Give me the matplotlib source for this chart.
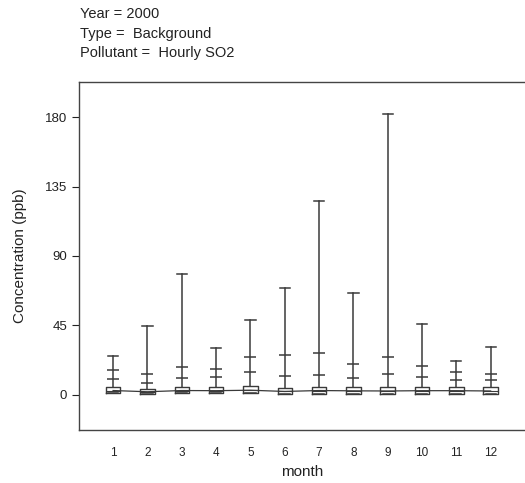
import matplotlib

matplotlib.use("Agg")

import matplotlib.pyplot as plt

# Hourly SO2 at background sites, year 2000, by month
months = [1, 2, 3, 4, 5, 6, 7, 8, 9, 10, 11, 12]
q1 = [1.0, 0.5, 1.0, 1.0, 1.2, 0.6, 0.5, 0.8, 0.7, 0.8, 0.8, 0.7]
medians = [2.8, 2.0, 2.8, 2.7, 3.0, 2.2, 2.8, 2.6, 2.5, 2.7, 2.7, 2.5]
q3 = [5.4, 4.0, 5.4, 5.2, 5.7, 4.7, 5.2, 5.0, 4.8, 5.1, 5.1, 4.8]
p95 = [10.4, 8.0, 11.2, 11.7, 14.9, 12.3, 13.1, 11.2, 13.8, 11.7, 9.9, 9.3]
p99 = [16.2, 13.4, 17.9, 17.0, 24.4, 25.7, 26.8, 20.3, 24.8, 19.0, 14.7, 13.4]
maxima = [25.3, 44.7, 78.3, 30.4, 48.6, 69.3, 125.6, 66.0, 182.0, 46.0, 22.2, 31.3]

ink = "#3a3a3a"
plt.rcParams["font.family"] = ["Liberation Sans", "DejaVu Sans"]

fig = plt.figure(figsize=(5.25, 4.83), dpi=100)
ax = fig.add_axes([0.150, 0.110, 0.850, 0.720])

stats = []
for m, a, med, b, top in zip(months, q1, medians, q3, maxima):
    stats.append({"label": str(m), "q1": a, "med": med, "q3": b,
                  "whislo": a, "whishi": top, "fliers": []})

ax.bxp(stats, positions=months, widths=0.42, showfliers=False,
       boxprops=dict(color=ink, linewidth=1.0),
       medianprops=dict(color=ink, linewidth=0.8),
       whiskerprops=dict(color=ink, linewidth=1.1),
       capprops=dict(color=ink, linewidth=1.1),
       capwidths=0.3)

# percentile marks along the whiskers
ax.plot(months, p95, linestyle="none", marker="_", markersize=9,
        markeredgewidth=1.1, color=ink)
ax.plot(months, p99, linestyle="none", marker="_", markersize=9,
        markeredgewidth=1.1, color=ink)

# medians joined month to month
ax.plot(months, medians, color=ink, linewidth=0.9)

ax.set_xlim(0, 13)
ax.set_ylim(-22.7, 202.7)
ax.set_yticks([0, 45, 90, 135, 180])
ax.set_xticks(months)
ax.set_xticklabels([str(m) for m in months])
ax.tick_params(axis="x", length=0, labelsize=8.5, pad=12, colors="#222222")
ax.tick_params(axis="y", length=5, labelsize=9.5, colors="#222222", width=0.8)
ax.spines["right"].set_visible(False)
for side in ["left", "top", "bottom"]:
    ax.spines[side].set_color("#444444")
    ax.spines[side].set_linewidth(1.0)

ax.set_xlabel("month", fontsize=11, labelpad=5, color="#222222")
ax.set_ylabel("Concentration (ppb)", fontsize=11, labelpad=13, color="#222222")

fig.text(0.152, 0.986, "Year = 2000", fontsize=10.5, va="top", color="#222222")
fig.text(0.152, 0.945, "Type =  Background", fontsize=10.5, va="top", color="#222222")
fig.text(0.152, 0.904, "Pollutant =  Hourly SO2", fontsize=10.5, va="top", color="#222222")

fig.savefig("out.png", dpi=100)
